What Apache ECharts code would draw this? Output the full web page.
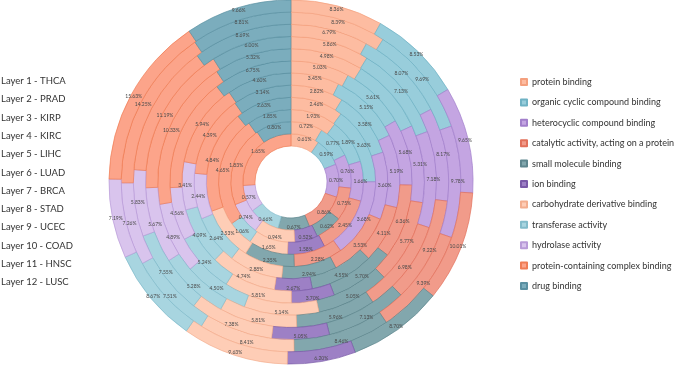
<!DOCTYPE html>
<html>
<head>
<meta charset="utf-8">
<script src="https://cdn.jsdelivr.net/npm/echarts@6/dist/echarts.min.js"></script>
<style>
  html, body { margin: 0; padding: 0; background: #fff; }
  #main { width: 685px; height: 368px; }
</style>
</head>
<body>
<div id="main"></div>
<script>
// GO terms, one ring per layer (inner -> outer)
const categories = [
  'protein binding',
  'organic cyclic compound binding',
  'heterocyclic compound binding',
  'catalytic activity, acting on a protein',
  'small molecule binding',
  'ion binding',
  'carbohydrate derivative binding',
  'transferase activity',
  'hydrolase activity',
  'protein-containing complex binding',
  'drug binding'
];
const layers = [
  'Layer 1 - THCA', 'Layer 2 - PRAD', 'Layer 3 - KIRP', 'Layer 4 - KIRC',
  'Layer 5 - LIHC', 'Layer 6 - LUAD', 'Layer 7 - BRCA', 'Layer 8 - STAD',
  'Layer 9 - UCEC', 'Layer 10 - COAD', 'Layer 11 - HNSC', 'Layer 12 - LUSC'
];

// percentages per layer 1..12 (0 = term not present in that layer)
const proteinBinding     = [0.61, 0.72, 1.93, 2.46, 2.82, 3.45, 5.03, 4.98, 5.86, 6.79, 8.39, 8.36];
const organicCyclic      = [0.59, 0.77, 1.89, 3.63, 3.58, 5.15, 5.61, 5.25, 7.13, 8.07, 9.69, 8.53];
const heterocyclic       = [0.70, 0.76, 1.66, 3.68, 3.60, 5.19, 5.68, 5.31, 7.18, 8.17, 9.78, 9.65];
const catalyticProtein   = [0.86, 0.75, 2.45, 2.28, 3.53, 4.11, 6.36, 5.77, 6.98, 9.22, 9.39, 10.01];
const smallMolecule      = [0.67, 0.62, 0, 2.35, 2.94, 4.55, 5.70, 5.05, 5.96, 7.13, 8.46, 8.70];
const ionBinding         = [0, 0.52, 1.58, 0, 0, 2.67, 3.70, 0, 0, 5.05, 0, 6.20];
const carbohydrate       = [0, 0.94, 1.65, 2.53, 2.88, 4.74, 5.81, 5.14, 5.81, 7.38, 8.41, 9.63];
const transferase        = [0.66, 0, 1.06, 0, 2.64, 4.09, 5.24, 4.50, 5.28, 7.55, 7.51, 8.67];
const hydrolase          = [0.57, 0.74, 0, 0, 2.44, 3.41, 4.56, 4.89, 5.67, 5.83, 7.26, 7.19];
const complexBinding     = [1.65, 1.83, 4.65, 4.84, 4.39, 5.94, 9.78, 10.33, 11.19, 11.61, 14.25, 15.63];
const drugBinding        = [0, 0.80, 1.85, 2.63, 3.14, 4.60, 6.75, 5.32, 6.00, 8.69, 8.81, 9.66];

const valueSets = [proteinBinding, organicCyclic, heterocyclic, catalyticProtein, smallMolecule,
  ionBinding, carbohydrate, transferase, hydrolase, complexBinding, drugBinding];

const fills = ['#fdbca1', '#98cddb', '#c4a5e2', '#f19b8a', '#82a7ad', '#9d80c5',
  '#fecdb6', '#a8d5e0', '#d9c4ed', '#fca48a', '#7badbd'];
const edges = ['#f4a07e', '#6fb2c4', '#a27fcb', '#e2705a', '#5e868e', '#7a5aa8',
  '#f3ae8e', '#82bccb', '#b99bd8', '#ef7d55', '#5a90a2'];

const FONT = 'Lato';
const cx = 291, cy = 182;
const hole = 36, ringW = 12.17;

const series = layers.map((layer, k) => ({
  type: 'pie',
  name: layer,
  center: [cx, cy],
  radius: [hole + k * ringW, hole + (k + 1) * ringW],
  startAngle: 90,
  clockwise: true,
  avoidLabelOverlap: false,
  silent: true,
  label: {
    show: true,
    position: 'inside',
    formatter: p => p.value.toFixed(2) + '%',
    fontSize: 5,
    fontFamily: FONT,
    color: '#4a4a4a'
  },
  labelLine: { show: false },
  itemStyle: { borderWidth: 0.7 },
  data: categories
    .map((c, i) => ({
      name: c,
      value: valueSets[i][k],
      itemStyle: { color: fills[i], borderColor: edges[i] }
    }))
    .filter(d => d.value > 0)
}));

const chart = echarts.init(document.getElementById('main'));
chart.setOption({
  animation: false,
  backgroundColor: '#fff',
  legend: {
    data: categories,
    orient: 'vertical',
    left: 520,
    top: 76,
    padding: 0,
    icon: 'rect',
    itemWidth: 6,
    itemHeight: 6,
    itemGap: 8.4,
    selectedMode: false,
    textStyle: { fontSize: 9, fontFamily: FONT, color: '#333', lineHeight: 12 }
  },
  graphic: layers.map((t, i) => ({
    type: 'text',
    left: 1,
    top: 76 + i * 18.3,
    style: { text: t, fontSize: 9.5, fontFamily: FONT, fill: '#333' }
  })),
  series: series
});
</script>
</body>
</html>
